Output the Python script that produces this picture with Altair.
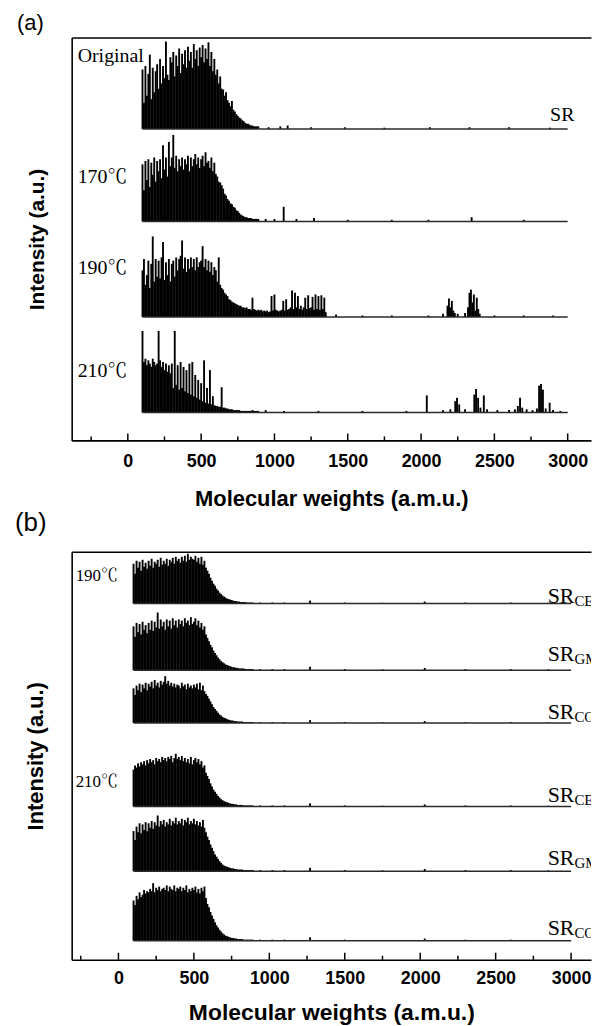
import altair as alt
import pandas as pd

# ---------------- data ----------------
GRID = list(range(100, 900, 10))          # mass grid of the dense region (a.m.u.)
MAJOR = [0, 500, 1000, 1500, 2000, 2500, 3000]
MINOR = [-250, 250, 750, 1250, 1750, 2250, 2750]
TRACE_START, TRACE_END = 100, 3000

# panel (a): relative peak heights (% of trace max) on GRID
A_NAMES = ["Original", "170℃", "190℃", "210℃"]
A_BASE = [313, 220, 124, 28]        # baseline level of each stacked trace
A_AMP = [88, 87, 81, 82]            # full-scale height of each trace
A_LABEL_Y = [386, 265, 173, 70]
A_MAIN = [
    [68, 30, 72, 38, 63, 85, 34, 70, 42, 66,
     74, 46, 80, 52, 72, 58, 100, 62, 56, 82,
     76, 88, 60, 84, 72, 92, 64, 86, 74, 90,
     70, 94, 78, 88, 70, 97, 80, 90, 72, 93,
     82, 96, 76, 92, 80, 99, 72, 88, 66, 80,
     62, 68, 52, 60, 46, 45, 38, 42, 33, 30,
     26, 32, 22, 20, 17, 15, 13, 12, 10, 9,
     7, 6, 6, 5, 4, 4, 3, 3, 3, 3],
    [66, 36, 70, 48, 72, 40, 68, 54, 74, 46,
     70, 58, 72, 50, 88, 60, 74, 52, 92, 64,
     74, 100, 62, 76, 58, 72, 64, 74, 60, 72,
     66, 76, 58, 74, 64, 72, 78, 66, 74, 62,
     72, 76, 64, 80, 68, 70, 62, 74, 58, 68,
     55, 52, 46, 45, 42, 38, 32, 30, 26, 24,
     21, 20, 17, 16, 13, 12, 10, 8, 7, 6,
     5, 5, 4, 4, 4, 3, 3, 3, 3, 3],
    [58, 72, 40, 52, 70, 36, 66, 100, 44, 72,
     50, 70, 48, 74, 93, 46, 68, 52, 72, 44,
     66, 70, 50, 74, 58, 72, 76, 95, 60, 74,
     56, 72, 60, 74, 62, 72, 58, 74, 62, 68,
     70, 88, 62, 72, 58, 70, 56, 68, 52, 62,
     58, 44, 74, 40, 36, 34, 30, 28, 26, 22,
     21, 19, 18, 17, 16, 15, 14, 14, 12, 12,
     11, 12, 10, 10, 9, 24, 10, 9, 8, 9],
    [100, 62, 66, 58, 64, 60, 56, 66, 62, 58,
     60, 100, 64, 56, 62, 52, 60, 50, 58, 48,
     60, 30, 100, 34, 58, 28, 62, 30, 56, 26,
     52, 24, 60, 22, 62, 20, 46, 18, 40, 16,
     36, 14, 64, 12, 30, 11, 52, 10, 20, 9,
     8, 8, 7, 7, 31, 6, 6, 5, 5, 4,
     4, 4, 3, 3, 3, 3, 3, 2, 2, 2,
     2, 2, 2, 2, 2, 3, 2, 2, 2, 2],
]
# sparse peaks above 900 a.m.u.
A_EXTRA_M = [
    [960, 1040, 1090, 1250, 1480, 1750, 2060, 2330, 2600, 2880],
    [940, 1000, 1063, 1150, 1270, 1500, 1800, 2050, 2345, 2700],
    [900, 910, 920, 930, 940, 950, 960, 970, 980, 990,
     1000, 1010, 1020, 1030, 1040, 1050, 1060, 1070, 1080, 1090,
     1100, 1110, 1120, 1130, 1140, 1150, 1160, 1170, 1180, 1190,
     1200, 1210, 1220, 1230, 1240, 1250, 1260, 1270, 1280, 1290,
     1300, 1310, 1320, 1330, 1340, 1350,
     1420, 1600, 1800, 2050, 2150, 2180, 2190, 2200, 2210, 2220, 2230,
     2250, 2300, 2320, 2330, 2340, 2350, 2360, 2370, 2380, 2390, 2400,
     2500, 2700, 2900],
    [940, 1065, 1300, 1600, 1900, 2039, 2150, 2200, 2233, 2245, 2260,
     2300, 2363, 2375, 2389, 2405, 2428, 2450, 2520, 2600, 2640, 2660,
     2675, 2690, 2720, 2760, 2790, 2805, 2818, 2831, 2850, 2877, 2900, 2950],
]
A_EXTRA_H = [
    [2, 3, 4, 2, 2, 1.5, 2, 2, 2, 1.5],
    [3, 3, 17, 3, 4, 2, 2, 2, 5, 2],
    [8, 9, 7, 8, 7, 8, 6, 7, 26, 8,
     28, 9, 8, 7, 8, 9, 20, 8, 22, 9,
     10, 12, 33, 10, 30, 12, 26, 10, 14, 9,
     12, 24, 10, 27, 11, 12, 25, 9, 28, 10,
     26, 9, 27, 10, 24, 6,
     3, 2, 2, 2, 4, 14, 23, 12, 20, 8, 5,
     4, 5, 12, 30, 34, 18, 28, 8, 24, 10, 4,
     2, 2, 2],
    [3, 2, 2, 2, 2, 21, 3, 4, 14, 18, 10,
     4, 22, 29, 18, 6, 21, 4, 3, 3, 4, 8,
     18, 6, 4, 3, 5, 33, 35, 28, 5, 12, 3, 2],
]

# panel (b)
B_TEMPS = ["190℃", "210℃"]
B_TEMP_Y = [386, 179]
B_SUBS = ["CE", "GMA", "CO", "CE", "GMA", "CO"]
B_BASE = [358, 291, 238, 154, 89, 19]
B_AMP = [50, 58, 47, 53, 56, 58]
B_SR_LIFT = [1, 9, 4, 5, 6, 6]
B_MAIN = [
    [80, 60, 86, 72, 84, 66, 88, 74, 82, 70,
     86, 76, 90, 72, 84, 80, 88, 74, 92, 78,
     86, 80, 90, 76, 88, 84, 92, 80, 94, 86,
     90, 82, 94, 86, 96, 84, 100, 88, 94, 90,
     88, 96, 84, 92, 80, 94, 78, 86, 72, 66,
     60, 52, 46, 40, 36, 30, 26, 22, 19, 16,
     14, 12, 10, 9, 8, 7, 6, 5, 5, 4,
     4, 3, 3, 3, 3, 2, 2, 2, 2, 2],
    [76, 58, 82, 66, 80, 62, 84, 70, 78, 64,
     82, 70, 86, 68, 84, 74, 100, 72, 88, 76,
     84, 70, 88, 76, 86, 72, 90, 78, 86, 74,
     88, 80, 86, 76, 90, 82, 86, 78, 92, 80,
     84, 90, 78, 86, 74, 82, 70, 76, 62, 56,
     50, 44, 40, 34, 30, 26, 22, 19, 16, 14,
     12, 10, 9, 8, 7, 6, 5, 5, 4, 4,
     3, 3, 3, 3, 2, 2, 2, 2, 2, 2],
    [74, 60, 80, 70, 84, 66, 82, 74, 86, 70,
     84, 78, 88, 74, 92, 80, 86, 76, 90, 82,
     88, 100, 84, 90, 80, 86, 78, 84, 76, 82,
     80, 74, 86, 78, 82, 72, 84, 76, 80, 74,
     82, 76, 84, 72, 86, 70, 80, 68, 62, 58,
     52, 46, 40, 34, 30, 26, 22, 18, 16, 13,
     11, 10, 8, 7, 6, 5, 5, 4, 4, 3,
     3, 3, 3, 2, 2, 2, 2, 2, 2, 2],
    [70, 78, 74, 82, 76, 84, 80, 86, 78, 88,
     82, 90, 84, 88, 80, 92, 86, 90, 84, 94,
     88, 92, 86, 94, 90, 96, 84, 92, 100, 90,
     94, 88, 96, 86, 92, 84, 90, 82, 94, 80,
     88, 92, 84, 90, 80, 86, 74, 78, 64, 58,
     52, 44, 38, 32, 28, 24, 20, 17, 14, 12,
     10, 9, 8, 7, 6, 5, 5, 4, 4, 3,
     3, 3, 3, 2, 2, 2, 2, 2, 2, 2],
    [72, 56, 80, 70, 86, 68, 84, 74, 88, 72,
     86, 78, 90, 76, 88, 82, 100, 80, 90, 84,
     92, 80, 88, 84, 94, 82, 90, 86, 96, 84,
     90, 86, 94, 82, 92, 88, 96, 84, 90, 86,
     94, 84, 90, 82, 88, 80, 92, 78, 70, 62,
     56, 48, 42, 36, 30, 26, 22, 18, 15, 12,
     10, 9, 8, 7, 6, 5, 5, 4, 4, 3,
     3, 3, 3, 2, 2, 2, 2, 2, 2, 2],
    [70, 62, 78, 72, 84, 76, 80, 88, 82, 86,
     84, 90, 86, 100, 84, 92, 88, 94, 86, 90,
     92, 88, 96, 86, 94, 90, 88, 96, 86, 92,
     90, 94, 86, 92, 88, 96, 84, 90, 86, 92,
     88, 94, 84, 90, 82, 92, 86, 94, 74, 64,
     58, 50, 44, 38, 32, 27, 23, 19, 16, 13,
     11, 9, 8, 7, 6, 5, 5, 4, 4, 3,
     3, 3, 3, 2, 2, 2, 2, 2, 2, 2],
]
B_TAIL_M = [940, 1020, 1100, 1270, 1500, 1750, 2030, 2300, 2600, 2850]
B_TAIL_H = [2, 2, 2, 6, 2, 1.5, 4, 2, 2, 1.5]

# ---------------- tables ----------------
def spike_table(bases, amps, mains, extra_m, extra_h):
    rows = []
    for i, (b, a) in enumerate(zip(bases, amps)):
        for m, h in zip(GRID, mains[i]):
            rows.append({"trace": i, "mass": m, "base": b, "top": b + h * a / 100})
        for m, h in zip(extra_m[i], extra_h[i]):
            rows.append({"trace": i, "mass": m, "base": b, "top": b + h * a / 100})
    return pd.DataFrame(rows)


def base_table(bases):
    return pd.DataFrame({"start": [TRACE_START] * len(bases),
                         "end": [TRACE_END] * len(bases), "base": bases})


def tick_table():
    return pd.DataFrame({"t": MAJOR + MINOR,
                         "y0": [0] * (len(MAJOR) + len(MINOR)),
                         "y1": [7] * len(MAJOR) + [4] * len(MINOR)})


spk_a = spike_table(A_BASE, A_AMP, A_MAIN, A_EXTRA_M, A_EXTRA_H)
spk_b = spike_table(B_BASE, B_AMP, B_MAIN,
                    [B_TAIL_M] * 6, [B_TAIL_H] * 6)

lab_a = pd.DataFrame({"name": A_NAMES, "y": A_LABEL_Y})
lab_b = pd.DataFrame({"name": B_TEMPS, "y": B_TEMP_Y})
sr_a = pd.DataFrame({"sr": ["SR"], "sub": [""], "x": [2880], "y": [A_BASE[0] + 8]})
sr_b = pd.DataFrame({"sr": ["SR"] * 6, "sub": B_SUBS, "x": [2845] * 6,
                     "y": [b + l for b, l in zip(B_BASE, B_SR_LIFT)]})

SANS = "Liberation Sans, Arial, Helvetica, sans-serif"
SERIF = "Liberation Serif, Times New Roman, Noto Serif CJK SC, Noto Sans CJK SC, serif"
W = 522


def panel(letter, spk, lab, sr, xdom, H, tick_fs, title_fs, label_pad, title_pad,
          temp_fs, temp_x, sr_fs, sub_fs, letter_fs, letter_offset):
    xs = alt.Scale(domain=xdom, nice=False, zero=False)
    ys = alt.Scale(domain=[0, H], nice=False, zero=False)
    yaxis = alt.Axis(orient="left", labels=False, ticks=False, grid=False,
                     domainColor="black", domainWidth=1.6, minExtent=0,
                     title="Intensity (a.u.)", titleFont=SANS,
                     titleFontSize=title_fs - 1, titleFontWeight="bold",
                     titleColor="black", titlePadding=24)

    spikes = alt.Chart(spk).mark_rule(color="#000000", strokeWidth=1.9).encode(
        x=alt.X("mass:Q", scale=xs,
                axis=alt.Axis(orient="bottom", values=MAJOR, format="d", ticks=False,
                              grid=False, domainColor="black", domainWidth=1.6,
                              labelFont=SANS, labelFontSize=tick_fs,
                              labelFontWeight="bold", labelColor="black",
                              labelPadding=label_pad, labelFlush=False,
                              title="Molecular weights (a.m.u.)", titleFont=SANS,
                              titleFontSize=title_fs, titleFontWeight="bold",
                              titleColor="black", titlePadding=title_pad)),
        y=alt.Y("top:Q", scale=ys, axis=yaxis),
        y2="base:Q",
    )

    baselines = alt.Chart(base_table(
        sorted(spk["base"].unique().tolist()))).mark_rule(
        color="#2a2a2a", strokeWidth=1.5).encode(
        x=alt.X("start:Q", scale=xs,
                axis=alt.Axis(orient="top", labels=False, ticks=False, grid=False,
                              domainColor="black", domainWidth=1.6, title=None)),
        x2="end:Q",
        y=alt.Y("base:Q", scale=ys, axis=yaxis),
    )

    ticks = alt.Chart(tick_table()).mark_rule(color="black", strokeWidth=1.5).encode(
        x=alt.X("t:Q", scale=xs, axis=None),
        y=alt.Y("y1:Q", scale=ys, axis=yaxis),
        y2="y0:Q",
    )

    temps = alt.Chart(lab).mark_text(align="left", baseline="middle", font=SERIF,
                                     fontSize=temp_fs, color="black").encode(
        x=alt.value(temp_x),
        y=alt.Y("y:Q", scale=ys, axis=yaxis),
        text="name:N",
    )

    srs = alt.Chart(sr).mark_text(align="left", baseline="alphabetic", font=SERIF,
                                  fontSize=sr_fs, color="black", clip=True).encode(
        x=alt.X("x:Q", scale=xs, axis=None),
        y=alt.Y("y:Q", scale=ys, axis=yaxis),
        text="sr:N",
    )
    subs = alt.Chart(sr).mark_text(align="left", baseline="alphabetic", font=SERIF,
                                   fontSize=sub_fs, color="black", clip=True,
                                   dx=sr_fs * 1.22, dy=3).encode(
        x=alt.X("x:Q", scale=xs, axis=None),
        y=alt.Y("y:Q", scale=ys, axis=yaxis),
        text="sub:N",
    )

    return alt.layer(spikes, baselines, ticks, temps, srs, subs).resolve_axis(
        x="independent").properties(
        width=W, height=H,
        title=alt.TitleParams(letter, anchor="start", frame="bounds", font=SANS,
                              fontSize=letter_fs, fontWeight="normal", color="black",
                              offset=letter_offset, dx=-10),
    )


pa = panel("(a)", spk_a, lab_a, sr_a, [-383, 3159], 405,
           tick_fs=18, title_fs=22, label_pad=12, title_pad=18,
           temp_fs=20, temp_x=6, sr_fs=20, sub_fs=13, letter_fs=22, letter_offset=3)
pb = panel("(b)", spk_b, lab_b, sr_b, [-310, 3132], 410,
           tick_fs=18, title_fs=23, label_pad=10, title_pad=14,
           temp_fs=17, temp_x=4, sr_fs=22, sub_fs=15, letter_fs=26, letter_offset=16)

chart = alt.vconcat(pa, pb, spacing=1).properties(
    padding={"left": 7, "top": 1, "right": 0, "bottom": 0},
    background="white",
).configure_view(stroke=None)

chart.save("out.html", embed_options={"renderer": "svg", "actions": False})
